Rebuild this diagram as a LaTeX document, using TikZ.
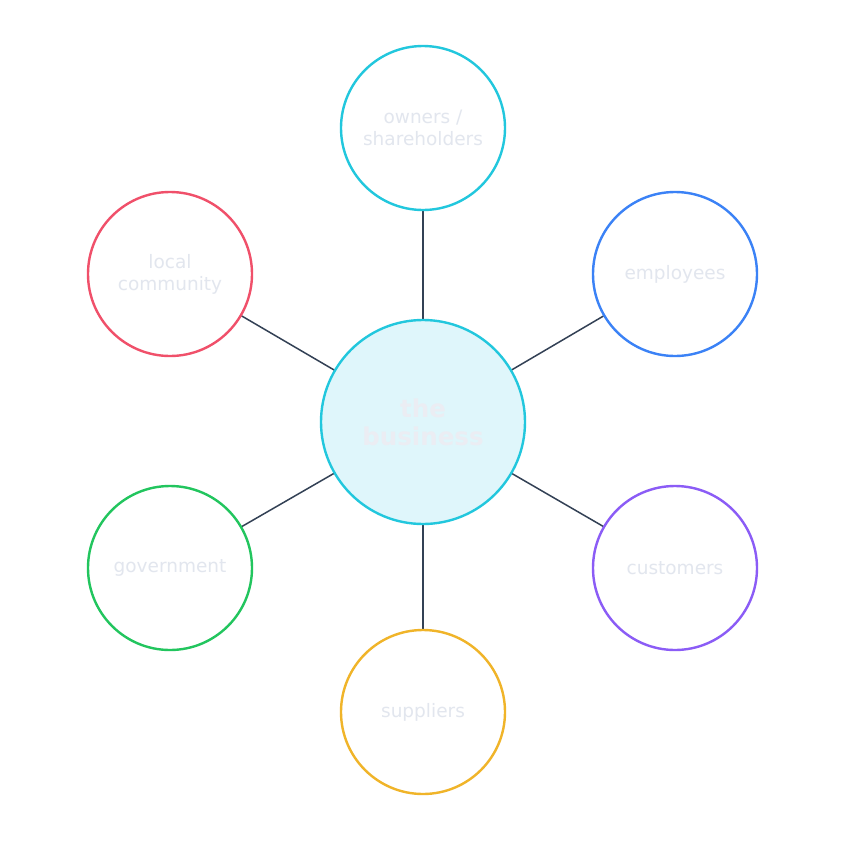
\documentclass[tikz,border=0pt]{standalone}
\usepackage{fontspec}
\setmainfont{DejaVu Sans}
\begin{document}
\begin{tikzpicture}[x=1pt,y=-1pt,
  outer/.style={circle,draw=#1,line width=2.4pt,fill=white,minimum size=164pt,inner sep=0pt,align=center,text=txt,font=\fontsize{18.5}{22}\selectfont},
  link/.style={draw=slate,line width=1.5pt}]
\definecolor{txt}{HTML}{E2E6EE}
\definecolor{slate}{HTML}{334155}
\definecolor{ccyan}{HTML}{22C7DD}
\definecolor{cfill}{HTML}{DFF6FB}
\definecolor{cred}{HTML}{F0506A}
\definecolor{cblue}{HTML}{3B82F6}
\definecolor{cgreen}{HTML}{22C55E}
\definecolor{cpurple}{HTML}{8B5CF6}
\definecolor{cyellow}{HTML}{F0B429}
\useasboundingbox (0,-4) rectangle (846,842);
\fill[white] (0,-4) rectangle (846,842);
\coordinate (c) at (423,418);
\draw[link] (c) -- (423,124);
\draw[link] (c) -- (170,270);
\draw[link] (c) -- (675,270);
\draw[link] (c) -- (170,564);
\draw[link] (c) -- (675,564);
\draw[link] (c) -- (423,708);
\node[outer=ccyan] (own) at (423,124) {owners /\\shareholders};
\node[outer=cred] (loc) at (170,270) {local\\community};
\node[outer=cblue] (emp) at (675,270) {employees};
\node[outer=cgreen] (gov) at (170,564) {government};
\node[outer=cpurple] (cus) at (675,564) {customers};
\node[outer=cyellow] (sup) at (423,708) {suppliers};
\node[circle,draw=ccyan,line width=2.4pt,fill=cfill,minimum size=204pt,inner sep=0pt,align=center,text=txt!70!white,font=\bfseries\fontsize{24.5}{28}\selectfont] (biz) at (c) {the\\business};
\end{tikzpicture}
\end{document}
